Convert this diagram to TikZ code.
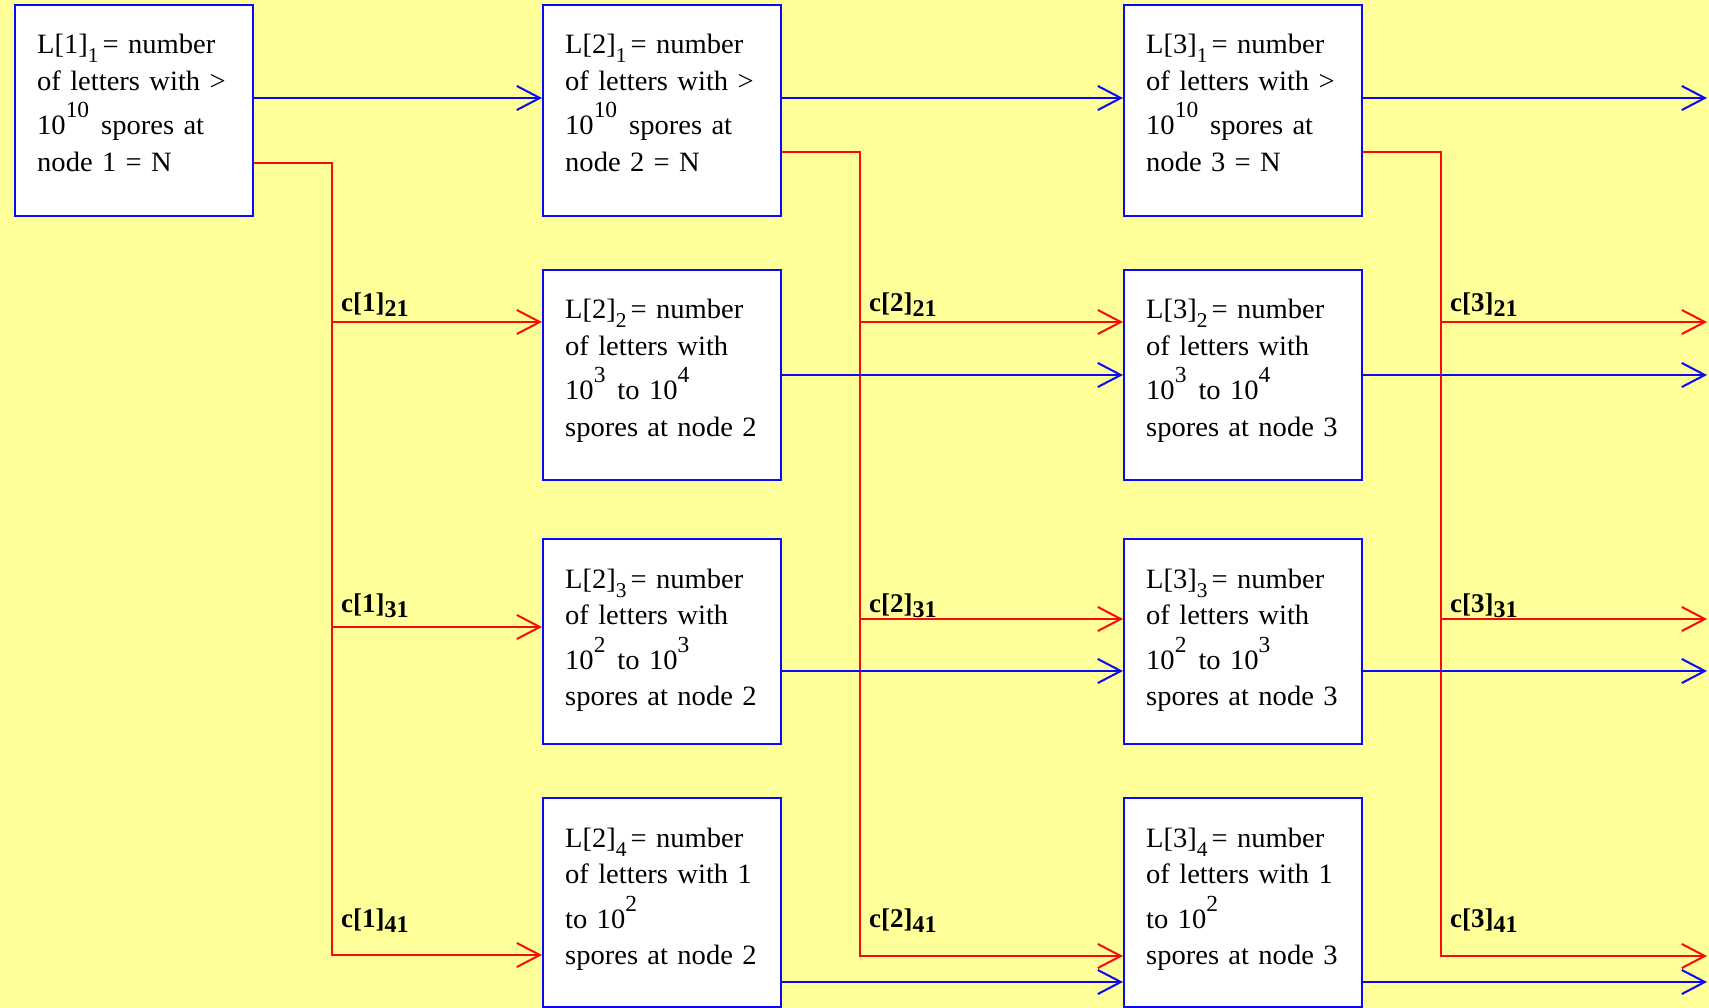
\documentclass[tikz,border=0pt]{standalone}
\usepackage{fontspec}
\setmainfont{Liberation Serif}
\newfontfamily\boxfont{Liberation Serif}[FakeStretch=1.02]
\usetikzlibrary{arrows.meta}
\definecolor{bgy}{RGB}{255,255,153}
\definecolor{lnblue}{RGB}{10,10,245}
\definecolor{lnred}{RGB}{250,10,10}
\newcommand\supx[1]{\raisebox{17pt}{\fontsize{23}{23}\selectfont #1}}
\newcommand\subx[1]{\raisebox{-9pt}{\fontsize{21}{21}\selectfont #1}}
\newcommand\clabel[2]{\textbf{c[#1]\raisebox{-5pt}{\fontsize{24}{24}\selectfont #2}}}
\begin{document}
\begin{tikzpicture}[x=1pt, y=-1pt,
  box/.style={draw=lnblue, line width=2pt, fill=white, minimum width=238pt, inner sep=0pt},
  txt/.style={anchor=base west, text width=215pt, align=left, inner sep=0pt, font=\boxfont\fontsize{28}{36.5}\selectfont},
  lbl/.style={anchor=base west, inner sep=0pt, font=\fontsize{27}{27}\selectfont},
  bl/.style={draw=lnblue, line width=2pt, -{Straight Barb[length=23pt,width=24pt]}},
  rd/.style={draw=lnred, line width=2pt, -{Straight Barb[length=23pt,width=24pt]}}]
\fill[bgy] (0,0) rectangle (1709,1008);
\useasboundingbox (0,0) rectangle (1709,1008);
% boxes
\node[box, minimum height=211pt] (n11) at (134,110.5) {};
\node[box, minimum height=211pt] (n21) at (662,110.5) {};
\node[box, minimum height=211pt] (n31) at (1243,110.5) {};
\node[box, minimum height=210pt] (n22) at (662,375) {};
\node[box, minimum height=210pt] (n32) at (1243,375) {};
\node[box, minimum height=205pt] (n23) at (662,641.5) {};
\node[box, minimum height=205pt] (n33) at (1243,641.5) {};
\node[box, minimum height=209pt] (n24) at (662,902.5) {};
\node[box, minimum height=209pt] (n34) at (1243,902.5) {};
% coordinates
\coordinate (h1) at (0,98);
\coordinate (h2) at (0,375);
\coordinate (h3) at (0,671);
\coordinate (h4) at (0,982);
\coordinate (o1) at (1707,98);
\coordinate (o2) at (1707,375);
\coordinate (o3) at (1707,671);
\coordinate (o4) at (1707,982);
\coordinate (a1) at (332,163);
\coordinate (a2) at (332,322);
\coordinate (a3) at (332,627);
\coordinate (a4) at (332,955);
\coordinate (b1) at (860,152);
\coordinate (b2) at (860,322);
\coordinate (b3) at (860,619);
\coordinate (b4) at (860,956);
\coordinate (c1) at (1441,152);
\coordinate (c2) at (1441,322);
\coordinate (c3) at (1441,619);
\coordinate (c4) at (1441,956);
\coordinate (q2) at (1707,322);
\coordinate (q3) at (1707,619);
\coordinate (q4) at (1707,956);
% red connectors
\draw[rd] (n11.east |- a1) -- (a1) -- (a4) -- (n24.west |- a4);
\draw[rd] (a2) -- (n22.west |- a2);
\draw[rd] (a3) -- (n23.west |- a3);
\draw[rd] (n21.east |- b1) -- (b1) -- (b4) -- (n34.west |- b4);
\draw[rd] (b2) -- (n32.west |- b2);
\draw[rd] (b3) -- (n33.west |- b3);
\draw[rd] (n31.east |- c1) -- (c1) -- (c4) -- (q4);
\draw[rd] (c2) -- (q2);
\draw[rd] (c3) -- (q3);
% blue connectors
\draw[bl] (n11.east |- h1) -- (n21.west |- h1);
\draw[bl] (n21.east |- h1) -- (n31.west |- h1);
\draw[bl] (n31.east |- h1) -- (o1);
\draw[bl] (n22.east |- h2) -- (n32.west |- h2);
\draw[bl] (n32.east |- h2) -- (o2);
\draw[bl] (n23.east |- h3) -- (n33.west |- h3);
\draw[bl] (n33.east |- h3) -- (o3);
\draw[bl] (n24.east |- h4) -- (n34.west |- h4);
\draw[bl] (n34.east |- h4) -- (o4);
% texts
\node[txt] (t11) at ([shift={(23,50)}]n11.north west) {L[1]\subx{1}\hspace{4pt}= number\\ of letters with >\\[8pt] 10\supx{10}\hspace{12pt}spores at\\ node 1 = N};
\node[txt] (t21) at ([shift={(23,50)}]n21.north west) {L[2]\subx{1}\hspace{4pt}= number\\ of letters with >\\[8pt] 10\supx{10}\hspace{12pt}spores at\\ node 2 = N};
\node[txt] (t31) at ([shift={(23,50)}]n31.north west) {L[3]\subx{1}\hspace{4pt}= number\\ of letters with >\\[8pt] 10\supx{10}\hspace{12pt}spores at\\ node 3 = N};
\node[txt] (t22) at ([shift={(23,50)}]n22.north west) {L[2]\subx{2}\hspace{4pt}= number\\ of letters with\\[8pt] 10\supx{3}\hspace{12pt}to 10\supx{4}\\ spores at node 2};
\node[txt] (t32) at ([shift={(23,50)}]n32.north west) {L[3]\subx{2}\hspace{4pt}= number\\ of letters with\\[8pt] 10\supx{3}\hspace{12pt}to 10\supx{4}\\ spores at node 3};
\node[txt] (t23) at ([shift={(23,50)}]n23.north west) {L[2]\subx{3}\hspace{4pt}= number\\ of letters with\\[8pt] 10\supx{2}\hspace{12pt}to 10\supx{3}\\ spores at node 2};
\node[txt] (t33) at ([shift={(23,50)}]n33.north west) {L[3]\subx{3}\hspace{4pt}= number\\ of letters with\\[8pt] 10\supx{2}\hspace{12pt}to 10\supx{3}\\ spores at node 3};
\node[txt] (t24) at ([shift={(23,50)}]n24.north west) {L[2]\subx{4}\hspace{4pt}= number\\ of letters with 1\\[8pt] to 10\supx{2}\\ spores at node 2};
\node[txt] (t34) at ([shift={(23,50)}]n34.north west) {L[3]\subx{4}\hspace{4pt}= number\\ of letters with 1\\[8pt] to 10\supx{2}\\ spores at node 3};
% labels
\node[lbl] (l12) at (341,312) {\clabel{1}{21}};
\node[lbl] (l13) at (341,612) {\clabel{1}{31}};
\node[lbl] (l14) at (341,927) {\clabel{1}{41}};
\node[lbl] (l22) at (869,312) {\clabel{2}{21}};
\node[lbl] (l23) at (869,612) {\clabel{2}{31}};
\node[lbl] (l24) at (869,927) {\clabel{2}{41}};
\node[lbl] (l32) at (1450,312) {\clabel{3}{21}};
\node[lbl] (l33) at (1450,612) {\clabel{3}{31}};
\node[lbl] (l34) at (1450,927) {\clabel{3}{41}};
\end{tikzpicture}
\end{document}
